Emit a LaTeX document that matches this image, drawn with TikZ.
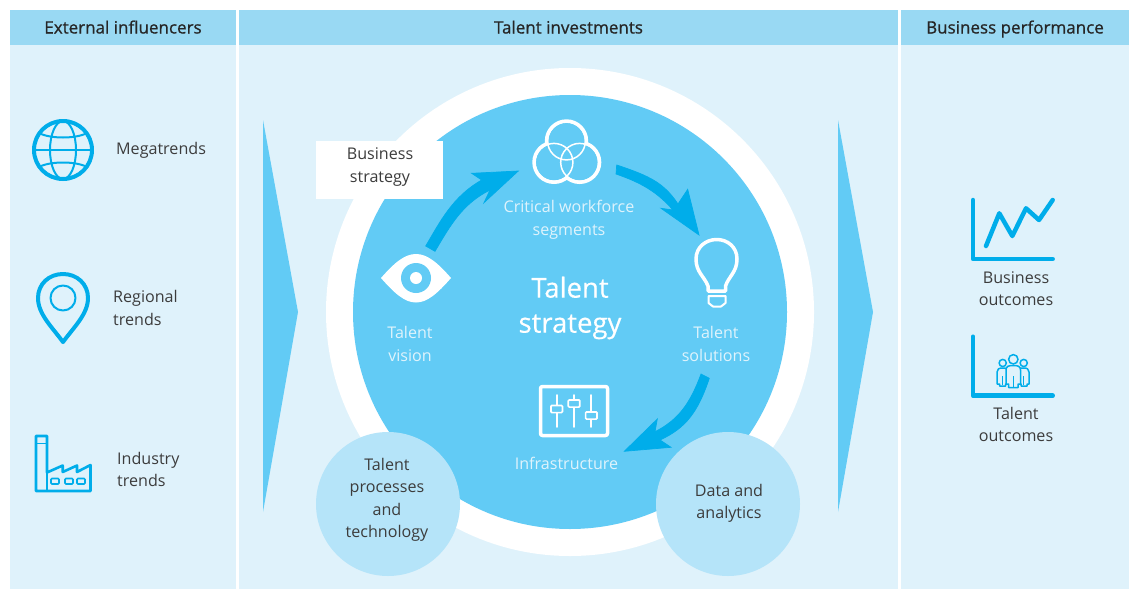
\documentclass[tikz,border=0pt]{standalone}
\usepackage{fontspec}
\setmainfont{Open Sans}
\newfontfamily\hdrfont[FakeBold=0.8]{Open Sans}
\newfontfamily\bigfont[FakeBold=0.4]{Open Sans}
\definecolor{hdr}{HTML}{99D9F3}
\definecolor{bodyc}{HTML}{DFF2FB}
\definecolor{midb}{HTML}{62CBF5}
\definecolor{lightb}{HTML}{B5E4F9}
\definecolor{iconb}{HTML}{00ADEA}
\definecolor{ink}{HTML}{3C3C3C}
\definecolor{pale}{HTML}{DFF3FC}
\tikzset{
  hdrbox/.style={fill=hdr,draw=none,minimum height=35pt,inner sep=0pt,font=\hdrfont\fontsize{17}{20}\selectfont,text=black!85,text height=14pt,text depth=2pt},
  lbl/.style={font=\fontsize{16.1}{22.5}\selectfont,text=ink,inner sep=0pt,align=center},
  lbll/.style={lbl,align=left,anchor=west},
  wlbl/.style={font=\fontsize{16.1}{23}\selectfont,text=pale,inner sep=0pt,align=center},
  iconline/.style={draw=iconb,line width=4pt,line cap=round,line join=round},
  iconthin/.style={draw=iconb,line width=2pt,line cap=round,line join=round},
  wline/.style={draw=white,line width=3.5pt,line cap=round,line join=round},
  wthin/.style={draw=white,line width=1.8pt,line cap=round,line join=round},
  blockarrow/.style={fill=iconb,draw=iconb,line width=0.7pt,line join=miter},
}
\begin{document}
\begin{tikzpicture}[x=1pt,y=-1pt]
\useasboundingbox (0,0) rectangle (1129,589);
\fill[white] (0,0) rectangle (1129,589);
% panels
\fill[bodyc] (10,45) rectangle (236,589);
\fill[bodyc] (239,45) rectangle (898,589);
\fill[bodyc] (901,45) rectangle (1129,589);
\node[hdrbox,minimum width=226pt] (h1) at (123,27.5) {External influencers};
\node[hdrbox,minimum width=659pt] (h2) at (568.5,27.5) {Talent investments};
\node[hdrbox,minimum width=228pt] (h3) at (1015,27.5) {Business performance};
% circles
\fill[white] (570,312) circle [radius=244];
\fill[midb] (570,312) circle [radius=217];
% side triangles
\fill[midb] (263,120) -- (298,312) -- (263,512) -- cycle;
\fill[midb] (838,120) -- (873,312) -- (838,512) -- cycle;
% business strategy
\node[fill=white,minimum width=127pt,minimum height=58pt,lbl] (bs) at (379.5,170) {};
\node[lbl] (bst) at (380,167) {Business\\strategy};
% small circles
\node[circle,fill=lightb,minimum size=144pt,inner sep=0pt,lbl] (tp) at (388,504) {};
\node[lbl] (tpt) at (387,500) {Talent\\processes\\and\\technology};
\node[circle,fill=lightb,minimum size=144pt,inner sep=0pt,lbl] (da) at (728,504) {};
\node[lbl] (dat) at (729,503.5) {Data and\\analytics};
% arrows
\draw[blockarrow] (425.7,246) .. controls (440,222) and (452,197) .. (481.7,180)
  -- (471.7,173.3) -- (518.3,171) -- (484,202.7) -- (490,190)
  .. controls (462,204) and (450,226) .. (435,251.3) -- cycle;
\draw[blockarrow] (616.7,165) .. controls (650,176) and (664,183) .. (678,204)
  -- (687.7,189.3) -- (699,235) -- (661,208.3) -- (673,210)
  .. controls (657,192) and (642,183) .. (616,174) -- cycle;
\draw[blockarrow] (709.3,378.3) .. controls (698,412) and (686,428) .. (660,440)
  -- (671,447.3) -- (624.3,451.3) -- (657.3,419) -- (655,431.7)
  .. controls (678,420) and (690,404) .. (701,374) -- cycle;
% globe
\coordinate (gl) at (63,150);
\draw[iconline] (gl) circle [radius=29];
\draw[iconthin] (gl) ellipse [x radius=13,y radius=29];
\draw[iconthin] (34,150) -- (92,150);
\draw[iconthin] (39,133) .. controls (50,139) and (76,139) .. (87,133);
\draw[iconthin] (39,167) .. controls (50,161) and (76,161) .. (87,167);
\node[lbll] (mt) at (116,150) {Megatrends};
% pin
\draw[iconline] (63,342) .. controls (52,327) and (38,314) .. (38,298) .. controls (38,284) and (49,274) .. (63,274) .. controls (77,274) and (88,284) .. (88,298) .. controls (88,314) and (74,327) .. (63,342) -- cycle;
\draw[iconthin] (63,298) circle [radius=12.5];
\node[lbll] (rt) at (113,308) {Regional\\trends};
% factory
\draw[iconb,line width=2.6pt,line join=round] (36,436) -- (47,436) -- (47,472.5) -- (62.7,465.5) -- (62.7,472) -- (77,465.5) -- (77,472) -- (90.5,465) -- (90.5,491) -- (36,491) -- cycle;
\draw[iconb,line width=1.8pt] (36,443.5) -- (47,443.5) (47,472) -- (47,491);
\foreach \wx in {51,65,77}{\draw[iconb,line width=1.6pt,rounded corners=1pt] (\wx,478.5) rectangle ++(8,5.5);}
\node[lbll] (it) at (117,469.5) {Industry\\trends};
% eye
\fill[white] (381,278) .. controls (395,262) and (405,254) .. (416,254) .. controls (427,254) and (437,262) .. (451,278) .. controls (437,294) and (427,302.5) .. (416,302.5) .. controls (405,302.5) and (395,294) .. (381,278) -- cycle;
\fill[midb] (416,278) circle [radius=15];
\fill[white] (416,278) circle [radius=6];
\node[wlbl] (tv) at (410,344) {Talent\\vision};
% three circles
\foreach \cx/\cy in {566.5/141,554/162.3,579.6/162.3}{\draw[white,line width=7pt] (\cx,\cy) circle [radius=18.2];}
\foreach \cx/\cy in {566.5/141,554/162.3,579.6/162.3}{\fill[midb] (\cx,\cy) circle [radius=18.2];}
\foreach \cx/\cy in {566.5/141,554/162.3,579.6/162.3}{\draw[white,line width=1.5pt] (\cx,\cy) circle [radius=18.9];}
\node[wlbl] (cw) at (569,220) {Critical workforce\\segments};
% centre
\node[font=\bigfont\fontsize{27.5}{35}\selectfont,text=white,align=center,inner sep=0pt] (ts) at (570,308) {Talent\\strategy};
% bulb
\draw[wline] (708,291) -- (708,286) .. controls (704,276) and (696,272) .. (696,259) .. controls (696,247) and (706,239.5) .. (716.7,239.5) .. controls (727.5,239.5) and (737,247) .. (737,259) .. controls (737,272) and (729,276) .. (725.5,286) -- (725.5,291) -- cycle;
\draw[white,line width=2pt,line join=round] (708.5,296) -- (708.5,303) -- (713,306.5) -- (721,306.5) -- (725.5,303) -- (725.5,296) -- cycle;
\node[wlbl] (tsl) at (716,344) {Talent\\solutions};
% sliders
\draw[wline,rounded corners=2pt] (540.5,386.5) rectangle (607.5,435.5);
\foreach \sx in {556.7,574,591.3}{\draw[wthin] (\sx,395) -- (\sx,427);}
\foreach \sx/\sy in {556.7/409,574/403.5,591.3/415.5}{\draw[white,line width=1.7pt,fill=midb,rounded corners=1pt] (\sx-5.7,\sy-3.6) rectangle (\sx+5.7,\sy+3.6);}
\node[wlbl] (inf) at (566.5,463.5) {Infrastructure};
% chart 1
\draw[iconline,line width=4.5pt] (973,200) -- (973,259) -- (1052.7,259);
\draw[iconline,line width=4.5pt] (986,246) -- (999.3,213.3) -- (1012.3,236) -- (1026,208.3) -- (1039,220) -- (1052.7,200);
\node[lbl] (bo) at (1016,288.5) {Business\\outcomes};
% chart 2
\draw[iconline,line width=4.5pt] (973,336.7) -- (973,395.7) -- (1052.7,395.7);
\draw[iconb,line width=1.5pt] (1002.7,363) circle [radius=3.6] (1023.7,363) circle [radius=3.6];
\draw[iconb,line width=1.5pt,line join=round,fill=bodyc] (997,384) -- (997,372) .. controls (997,369) and (999,368) .. (1002.7,368) .. controls (1006,368) and (1008,369) .. (1008,372) -- (1008,384) -- (1005.5,384) -- (1005.5,386) -- (999.5,386) -- (999.5,384) -- cycle;
\draw[iconb,line width=1.5pt,line join=round,fill=bodyc] (1018,384) -- (1018,372) .. controls (1018,369) and (1020,368) .. (1023.7,368) .. controls (1027,368) and (1029,369) .. (1029,372) -- (1029,384) -- (1027,384) -- (1027,386) -- (1021,386) -- (1021,384) -- cycle;
\draw[iconb,line width=1.5pt] (1013.3,359.3) circle [radius=4.7];
\draw[iconb,line width=1.5pt,line join=round,fill=bodyc] (1006,384) -- (1006,370) .. controls (1006,366) and (1009,365.5) .. (1013.3,365.5) .. controls (1017.5,365.5) and (1020.5,366) .. (1020.5,370) -- (1020.5,384) -- (1018,384) -- (1018,387.5) -- (1008.5,387.5) -- (1008.5,384) -- cycle;
\draw[iconb,line width=1pt] (1013.3,376) -- (1013.3,387) (1002.7,376) -- (1002.7,385) (1023.7,376) -- (1023.7,385);
\node[lbl] (to) at (1016,424.5) {Talent\\outcomes};
\end{tikzpicture}
\end{document}
